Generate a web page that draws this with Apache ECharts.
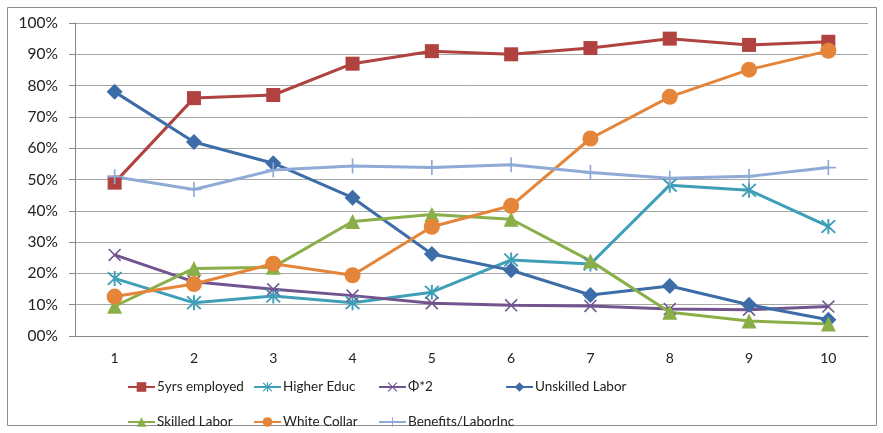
<!DOCTYPE html>
<html><head><meta charset="utf-8">
<script src="https://cdn.jsdelivr.net/npm/echarts@6/dist/echarts.min.js"></script>
<style>html,body{margin:0;padding:0;background:#fff}#c{width:883px;height:433px}</style>
</head><body><div id="c"></div>
<script>
var categories = ['1','2','3','4','5','6','7','8','9','10'];
var yrs5Employed   = [49, 76, 77, 87, 91, 90, 92, 95, 93, 94];
var higherEduc     = [18.4, 10.6, 12.8, 10.6, 14, 24.3, 23, 48.2, 46.6, 35];
var phi2           = [25.9, 17.3, 14.9, 12.9, 10.5, 9.8, 9.6, 8.6, 8.4, 9.4];
var unskilledLabor = [78, 62, 55.2, 44.2, 26.2, 21, 13.1, 16, 10, 5.2];
var skilledLabor   = [9.5, 21.6, 22, 36.6, 38.8, 37.3, 24, 7.6, 4.8, 3.8];
var whiteCollar    = [12.6, 16.6, 23.1, 19.4, 34.9, 41.6, 63.1, 76.4, 85.1, 91.1];
var benefitsLabor  = [50.9, 46.8, 53, 54.3, 53.8, 54.7, 52.2, 50.4, 51, 53.8];
var yTicks = [0,10,20,30,40,50,60,70,80,90,100];

function seg(x1,y1,x2,y2,w){
  var dx=x2-x1, dy=y2-y1, L=Math.sqrt(dx*dx+dy*dy), nx=-dy/L*w, ny=dx/L*w;
  return 'M'+(x1+nx)+','+(y1+ny)+' L'+(x2+nx)+','+(y2+ny)+' L'+(x2-nx)+','+(y2-ny)+' L'+(x1-nx)+','+(y1-ny)+' Z ';
}
var crossPath = 'path://' + seg(-10,-10,10,10,1.3) + seg(-10,10,10,-10,1.3);
var plusPath  = 'path://' + seg(0,-10,0,10,1.1) + seg(-10,0,10,0,1.1);
var starPath  = 'path://' + seg(0,-10,0,10,1.2) + seg(-8.5,-8.5,8.5,8.5,1.2) + seg(-8.5,8.5,8.5,-8.5,1.2);

var font = 'Lato, "Liberation Sans", sans-serif';
function S(name, data, color, symbol, size){
  return {name:name, type:'line', data:data, symbol:symbol, symbolSize:size,
    showAllSymbol:true, lineStyle:{color:color, width:3},
    itemStyle:{color:color, borderWidth:0}, emphasis:{disabled:true}, z:2};
}
var series = [
  S('5yrs employed', yrs5Employed, '#B0423F', 'rect', 14),
  S('Higher Educ', higherEduc, '#3F9FB8', starPath, 15),
  S('Φ*2', phi2, '#72558F', crossPath, 13),
  S('Unskilled Labor', unskilledLabor, '#3D6DA8', 'diamond', 16),
  S('Skilled Labor', skilledLabor, '#8BAF48', 'triangle', 15),
  S('White Collar', whiteCollar, '#E4853A', 'circle', 16),
  S('Benefits/LaborInc', benefitsLabor, '#8FAAD6', plusPath, 15)
];
var legPos = [[127,380],[253,380],[378,380],[505,380],[127,415],[253,415],[378,415]];
var legends = series.map(function(s,i){
  return {data:[s.name], left:legPos[i][0], top:legPos[i][1], itemWidth:27, itemHeight:12,
    itemGap:0, padding:0, selectedMode:false,
    textStyle:{fontFamily:font, fontSize:13.5, color:'#222', padding:[0,0,0,-3]}};
});

var chart = echarts.init(document.getElementById('c'), null, {renderer:'canvas'});
chart.setOption({
  animation:false,
  backgroundColor:'#fff',
  grid:{left:75, right:15, top:23, bottom:97},
  graphic:[{type:'rect', shape:{x:7.5,y:7.5,width:869,height:418}, style:{fill:'none', stroke:'#8c8c8c', lineWidth:1}, silent:true}],
  legend: legends,
  xAxis:{type:'category', data:categories, boundaryGap:true,
    axisLine:{lineStyle:{color:'#888', width:1}}, axisTick:{show:false},
    axisLabel:{fontFamily:font, fontSize:14, color:'#222', margin:15}},
  yAxis:{type:'value', min:0, max:100, interval:10,
    axisLine:{show:true, lineStyle:{color:'#888'}},
    axisTick:{show:true, length:6, lineStyle:{color:'#888'}},
    splitLine:{lineStyle:{color:'#A6A6A6', width:1}},
    axisLabel:{fontFamily:font, fontSize:15.5, color:'#222', margin:17,
      formatter:function(v){ return (v===0?'00':String(v))+'%'; }}},
  series: series
});
</script></body></html>
